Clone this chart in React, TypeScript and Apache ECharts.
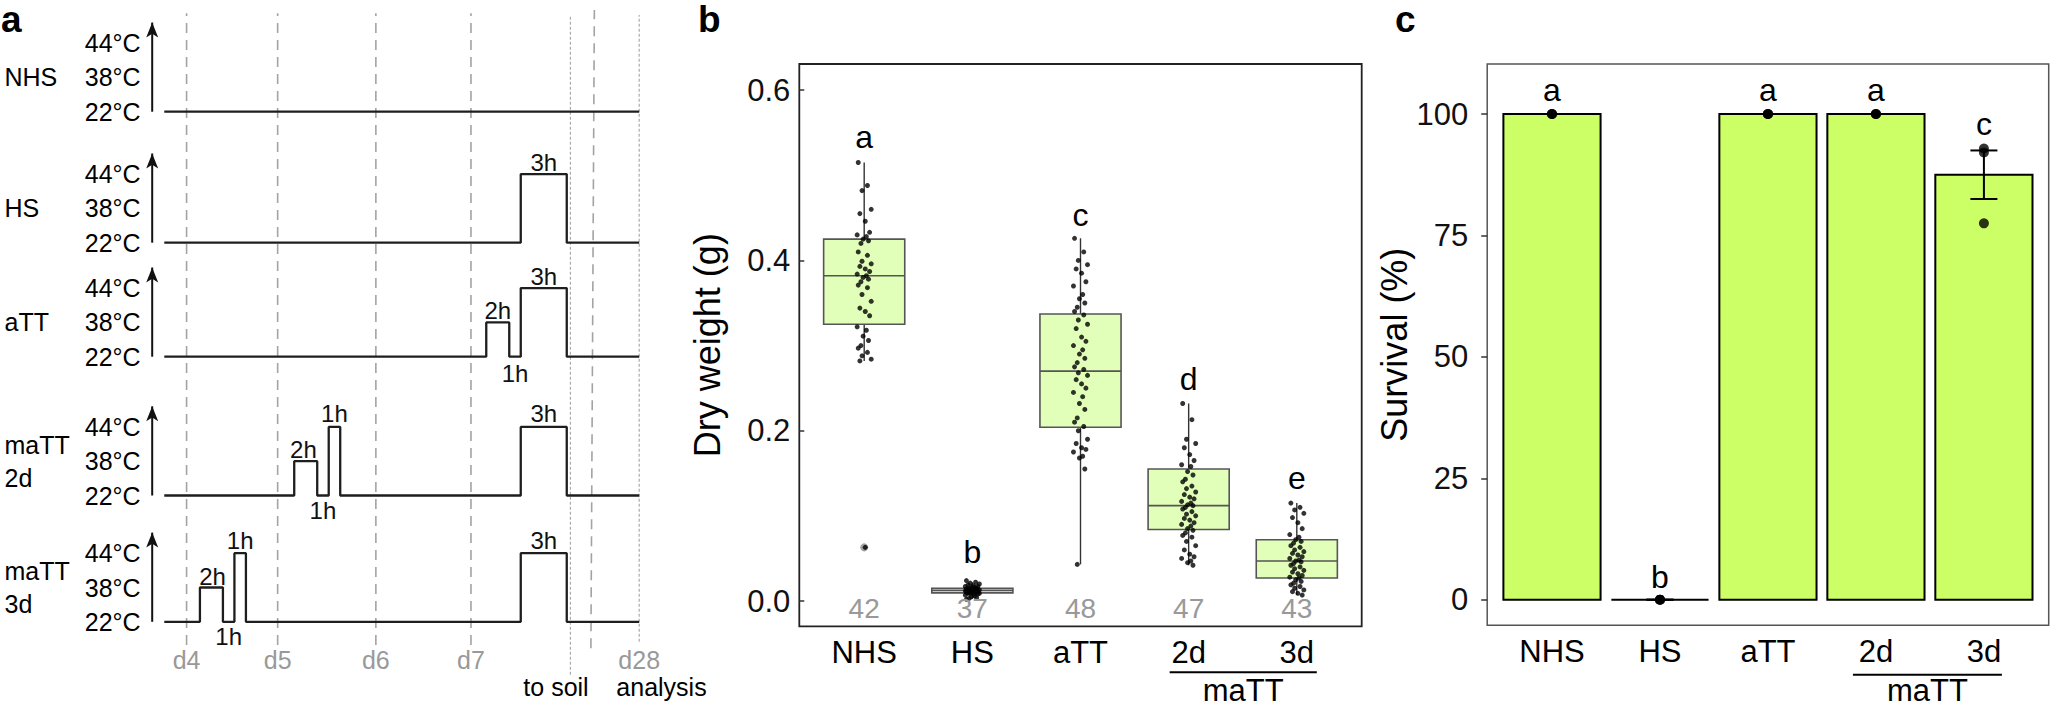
import React, { useEffect, useRef } from 'react';
import * as echarts from 'echarts';

const FONT = '"Liberation Sans", Arial, Helvetica, sans-serif';

// ---------------- Panel a : treatment schematic (schematic time units) ----------------
const dayLinePos = [1.94, 9.86, 18.4, 26.67];
const dayTickPos = [1.94, 9.86, 18.4, 26.67, 41.3];
const dayTickLabels = ['d4', 'd5', 'd6', 'd7', 'd28'];
const soilLinePos = 35.32;
const extraLineTop = 37.4;
const extraLineBottom = 37.1;
const endLinePos = 41.3;
const rowNames = ['NHS', 'HS', 'aTT', 'maTT\n2d', 'maTT\n3d'];
const tempLevels = [0, 1, 2];
const tempLabels = ['22°C', '38°C', '44°C'];
const profileNHS = [[0, 0], [41.3, 0]];
const profileHS = [[0, 0], [31, 0], [31, 2], [35, 2], [35, 0], [41.3, 0]];
const profileATT = [[0, 0], [28, 0], [28, 1], [30, 1], [30, 0], [31, 0], [31, 2], [35, 2], [35, 0], [41.3, 0]];
const profileMaTT2d = [[0, 0], [11.3, 0], [11.3, 1], [13.3, 1], [13.3, 0], [14.3, 0], [14.3, 2], [15.3, 2], [15.3, 0], [31, 0], [31, 2], [35, 2], [35, 0], [41.3, 0]];
const profileMaTT3d = [[0, 0], [3.1, 0], [3.1, 1], [5.1, 1], [5.1, 0], [6.1, 0], [6.1, 2], [7.1, 2], [7.1, 0], [31, 0], [31, 2], [35, 2], [35, 0], [41.3, 0]];
const pulseLabelsNHS: any[] = [];
const pulseLabelsHS = [[33, 2.35, '3h']];
const pulseLabelsATT = [[33, 2.35, '3h'], [29, 1.35, '2h'], [30.5, -0.48, '1h']];
const pulseLabelsMaTT2d = [[12.1, 1.33, '2h'], [14.8, 2.38, '1h'], [13.8, -0.43, '1h'], [33, 2.38, '3h']];
const pulseLabelsMaTT3d = [[4.2, 1.33, '2h'], [6.6, 2.38, '1h'], [5.6, -0.43, '1h'], [33, 2.38, '3h']];

// ---------------- Panel b : dry weight ----------------
const catLabels = ['NHS', 'HS', 'aTT', '2d', '3d'];
const catPos = [0, 1, 2, 3, 4];
const bTicks = [0, 0.2, 0.4, 0.6];
const bWhiskerLow = [0.282, 0.003, 0.043, 0.042, 0.007];
const bQ1 = [0.325, 0.0095, 0.204, 0.084, 0.027];
const bMedian = [0.382, 0.0125, 0.270, 0.112, 0.047];
const bQ3 = [0.425, 0.015, 0.337, 0.155, 0.072];
const bWhiskerHigh = [0.515, 0.022, 0.426, 0.232, 0.115];
const bOutliers = [[0, 0.063]];
const bCounts = ['42', '37', '48', '47', '43'];
const bLetters = ['a', 'b', 'c', 'd', 'e'];
const bLetterY = [0.545, 0.0575, 0.453, 0.261, 0.145];
const bPtsNHS = [0.515, 0.488, 0.482, 0.460, 0.455, 0.446, 0.433, 0.430, 0.428, 0.425, 0.423, 0.420, 0.410, 0.406, 0.399, 0.396, 0.393, 0.390, 0.387, 0.384, 0.382, 0.380, 0.378, 0.375, 0.371, 0.368, 0.360, 0.352, 0.344, 0.340, 0.335, 0.322, 0.318, 0.311, 0.306, 0.300, 0.297, 0.292, 0.288, 0.284, 0.282, 0.063];
const bPtsHS = [0.024, 0.022, 0.021, 0.020, 0.019, 0.018, 0.017, 0.017, 0.016, 0.016, 0.015, 0.015, 0.014, 0.014, 0.013, 0.013, 0.013, 0.012, 0.012, 0.012, 0.011, 0.011, 0.011, 0.010, 0.010, 0.010, 0.009, 0.009, 0.009, 0.008, 0.008, 0.007, 0.006, 0.005, 0.004, 0.003, 0.002];
const bPtsATT = [0.426, 0.41, 0.40, 0.395, 0.39, 0.385, 0.375, 0.37, 0.36, 0.355, 0.35, 0.345, 0.34, 0.336, 0.33, 0.325, 0.32, 0.31, 0.305, 0.30, 0.295, 0.29, 0.285, 0.28, 0.275, 0.272, 0.268, 0.265, 0.26, 0.255, 0.25, 0.245, 0.24, 0.232, 0.225, 0.215, 0.21, 0.205, 0.20, 0.19, 0.185, 0.18, 0.178, 0.175, 0.17, 0.168, 0.155, 0.043];
const bPtsMaTT2d = [0.232, 0.213, 0.19, 0.185, 0.18, 0.172, 0.165, 0.16, 0.158, 0.152, 0.148, 0.143, 0.14, 0.135, 0.132, 0.128, 0.125, 0.122, 0.12, 0.117, 0.115, 0.113, 0.112, 0.11, 0.108, 0.105, 0.102, 0.10, 0.097, 0.095, 0.092, 0.09, 0.088, 0.085, 0.083, 0.08, 0.077, 0.075, 0.07, 0.065, 0.06, 0.055, 0.052, 0.05, 0.047, 0.045, 0.042];
const bPtsMaTT3d = [0.115, 0.11, 0.107, 0.103, 0.098, 0.092, 0.085, 0.078, 0.075, 0.072, 0.07, 0.068, 0.065, 0.063, 0.06, 0.058, 0.056, 0.054, 0.052, 0.05, 0.048, 0.047, 0.046, 0.044, 0.042, 0.04, 0.038, 0.036, 0.034, 0.032, 0.03, 0.028, 0.027, 0.025, 0.023, 0.021, 0.019, 0.017, 0.015, 0.013, 0.011, 0.009, 0.007];
const jitterPattern = [-0.055, 0.03, -0.02, 0.065, -0.04, 0.01, 0.05, -0.065, 0.02, -0.01, 0.04, -0.03];

// ---------------- Panel c : survival ----------------
const cTicks = [0, 25, 50, 75, 100];
const cMean = [100, 0, 100, 100, 87.5];
const cSE = [0, 0, 0, 0, 5];
const cPoints = [[0, 100], [0, 100], [0, 100], [1, 0], [1, 0], [1, 0], [2, 100], [2, 100], [2, 100], [3, 100], [3, 100], [3, 100], [4, 92.9], [4, 92.1], [4, 77.5]];
const cLetters = ['a', 'b', 'a', 'a', 'c'];
const cLetterY = [104.9, 4.7, 104.9, 104.9, 98.0];

// ---------------- layout ----------------
const A_LEFT = 152.2;
const A_WIDTH = 487.0;
const A_XMIN = -1.05;
const A_XMAX = 41.3;
const ROW_BASE = [111.7, 242.7, 356.7, 495.5, 621.8];
const LEVEL_PX = 34.3;
const ROW_YMAX = 2.8;

function textEl(x: number, y: number, text: string, size: number, color = '#000', weight = 'normal', align = 'center', lineHeight?: number) {
  const style: any = { text, fontSize: size, fontFamily: FONT, fontWeight: weight, fill: color, align, verticalAlign: 'middle' };
  if (lineHeight) style.lineHeight = lineHeight;
  return { type: 'text', x, y, style };
}

function nearestLabel(v: number, pos: number[], labels: string[]) {
  let best = 0;
  for (let i = 1; i < pos.length; i++) if (Math.abs(pos[i] - v) < Math.abs(pos[best] - v)) best = i;
  return Math.abs(pos[best] - v) < 0.01 ? labels[best] : '';
}

const noLine = { show: false, onZero: false };

function buildOption() {
  const grid: any[] = [];
  const xAxis: any[] = [];
  const yAxis: any[] = [];
  const series: any[] = [];
  const profiles = [profileNHS, profileHS, profileATT, profileMaTT2d, profileMaTT3d];
  const pulseLabels = [pulseLabelsNHS, pulseLabelsHS, pulseLabelsATT, pulseLabelsMaTT2d, pulseLabelsMaTT3d];

  // ---- overlay grid for panel a vertical day lines (index 0)
  grid.push({ left: A_LEFT, top: 10, width: A_WIDTH, height: 635, outerBoundsMode: 'none' });
  xAxis.push({
    gridIndex: 0, type: 'value', min: A_XMIN, max: A_XMAX,
    axisLine: noLine, axisTick: { show: false }, splitLine: { show: false },
    axisLabel: {
      customValues: dayTickPos, formatter: (v: number) => nearestLabel(v, dayTickPos, dayTickLabels),
      color: '#999', fontSize: 25, fontFamily: FONT, margin: 5, lineHeight: 20,
    },
  });
  yAxis.push({ gridIndex: 0, type: 'value', min: 0, max: 1, show: false, axisLine: noLine });
  const dashed = { color: '#a3a3a3', width: 1.6, type: [10, 7] };
  const dotted = { color: '#ababab', width: 1.2, type: [3, 2] };
  dayLinePos.forEach((x) => {
    series.push({ type: 'line', xAxisIndex: 0, yAxisIndex: 0, data: [[x, 0], [x, 0.995]], symbol: 'none', lineStyle: dashed, clip: false, z: 1, silent: true });
  });
  series.push({ type: 'line', xAxisIndex: 0, yAxisIndex: 0, data: [[soilLinePos, -0.047], [soilLinePos, 0.992]], symbol: 'none', lineStyle: dotted, clip: false, z: 1, silent: true });
  series.push({ type: 'line', xAxisIndex: 0, yAxisIndex: 0, data: [[extraLineBottom, -0.005], [extraLineTop, 1.0]], symbol: 'none', lineStyle: dashed, clip: false, z: 1, silent: true });
  series.push({ type: 'line', xAxisIndex: 0, yAxisIndex: 0, data: [[endLinePos, 0.005], [endLinePos, 0.992]], symbol: 'none', lineStyle: dotted, clip: false, z: 1, silent: true });

  // ---- rows of panel a (grid 1..5)
  const rowH = ROW_YMAX * LEVEL_PX;
  for (let r = 0; r < 5; r++) {
    const gi = grid.length;
    grid.push({ left: A_LEFT, top: ROW_BASE[r] - rowH, width: A_WIDTH, height: rowH, outerBoundsMode: 'none' });
    xAxis.push({ gridIndex: gi, type: 'value', min: A_XMIN, max: A_XMAX, show: false, axisLine: noLine });
    const yTemp = yAxis.length;
    yAxis.push({
      gridIndex: gi, type: 'value', min: 0, max: ROW_YMAX, position: 'left', offset: 0,
      axisLine: noLine, axisTick: { show: false }, splitLine: { show: false },
      axisLabel: {
        customValues: tempLevels, formatter: (v: number) => nearestLabel(v, tempLevels, tempLabels),
        color: '#000', fontSize: 25, fontFamily: FONT, margin: 11.6, padding: [0, 0, 5, 0],
      },
    });
    yAxis.push({
      gridIndex: gi, type: 'value', min: 0, max: ROW_YMAX, position: 'left', offset: 0,
      axisLine: noLine, axisTick: { show: false }, splitLine: { show: false },
      axisLabel: {
        customValues: [1], formatter: () => rowNames[r], align: 'left', lineHeight: 33,
        color: '#000', fontSize: 25, fontFamily: FONT, margin: A_LEFT - 4.5, padding: [0, 0, 6, 0],
      },
    });
    series.push({
      type: 'line', xAxisIndex: gi, yAxisIndex: yTemp, data: profiles[r], symbol: 'none',
      lineStyle: { color: '#1e1e1e', width: 2.3 }, clip: false, z: 3, silent: true,
    });
    series.push({
      type: 'line', xAxisIndex: gi, yAxisIndex: yTemp,
      data: [{ value: [A_XMIN, 0], symbol: 'none' }, { value: [A_XMIN, 2.6], symbol: 'arrow', symbolSize: [9, 15] }],
      showSymbol: true, lineStyle: { color: '#111', width: 2 }, itemStyle: { color: '#111' }, clip: false, z: 3, silent: true,
    });
    const pl = pulseLabels[r];
    series.push({
      type: 'custom', xAxisIndex: gi, yAxisIndex: yTemp, clip: false, z: 4, silent: true,
      data: pl.map((d: any) => [d[0], d[1]]),
      renderItem: (params: any, api: any) => {
        const p = api.coord([api.value(0), api.value(1)]);
        return textEl(p[0], p[1], pl[params.dataIndex][2], 24, '#111');
      },
    });
  }

  // ---- panel b (grid 6)
  const gb = grid.length;
  grid.push({ left: 799.3, top: 64, width: 562.4, height: 562.3, show: true, borderColor: '#222', borderWidth: 1.8, backgroundColor: 'transparent', outerBoundsMode: 'none' });
  const xb = xAxis.length;
  xAxis.push({
    gridIndex: gb, type: 'value', min: -0.6, max: 4.6,
    axisLine: noLine, axisTick: { show: false }, splitLine: { show: false },
    axisLabel: { customValues: catPos, formatter: (v: number) => nearestLabel(v, catPos, catLabels), color: '#000', fontSize: 31, fontFamily: FONT, margin: 11 },
  });
  const yb = yAxis.length;
  yAxis.push({
    gridIndex: gb, type: 'value', min: -0.0297, max: 0.6307, position: 'left',
    axisLine: noLine, splitLine: { show: false },
    axisTick: { show: true, inside: true, length: 5, customValues: bTicks, lineStyle: { color: '#333', width: 1.5 } },
    axisLabel: { customValues: bTicks, formatter: (v: number) => v.toFixed(1), color: '#111', fontSize: 31, fontFamily: FONT, margin: 9 },
    name: 'Dry weight (g)', nameLocation: 'middle', nameGap: 74,
    nameTextStyle: { fontSize: 36, color: '#000', fontFamily: FONT },
  });
  series.push({
    type: 'custom', xAxisIndex: xb, yAxisIndex: yb, z: 2, silent: true,
    data: catPos.map((i) => [i, bWhiskerLow[i], bQ1[i], bMedian[i], bQ3[i], bWhiskerHigh[i]]),
    renderItem: (params: any, api: any) => {
      const i = api.value(0);
      const lo = api.coord([i, api.value(1)]);
      const q1 = api.coord([i, api.value(2)]);
      const md = api.coord([i, api.value(3)]);
      const q3 = api.coord([i, api.value(4)]);
      const hi = api.coord([i, api.value(5)]);
      const half = api.size([0.75, 0])[0] / 2;
      return {
        type: 'group', children: [
          { type: 'line', shape: { x1: lo[0], y1: lo[1], x2: q1[0], y2: q1[1] }, style: { stroke: '#333', lineWidth: 1.4 } },
          { type: 'line', shape: { x1: q3[0], y1: q3[1], x2: hi[0], y2: hi[1] }, style: { stroke: '#333', lineWidth: 1.4 } },
          { type: 'rect', shape: { x: q3[0] - half, y: q3[1], width: 2 * half, height: q1[1] - q3[1] }, style: { fill: '#e1ffb9', stroke: '#555', lineWidth: 1.6 } },
          { type: 'line', shape: { x1: md[0] - half, y1: md[1], x2: md[0] + half, y2: md[1] }, style: { stroke: '#555', lineWidth: 1.6 } },
        ],
      };
    },
  });
  series.push({
    type: 'scatter', xAxisIndex: xb, yAxisIndex: yb, data: bOutliers, symbolSize: 8,
    itemStyle: { color: '#8a8a8a' }, z: 3, silent: true,
  });
  const bGroups = [bPtsNHS, bPtsHS, bPtsATT, bPtsMaTT2d, bPtsMaTT3d];
  const jitterData: number[][] = [];
  bGroups.forEach((vals, i) => vals.forEach((v, k) => jitterData.push([i + jitterPattern[k % jitterPattern.length], v])));
  series.push({
    type: 'scatter', xAxisIndex: xb, yAxisIndex: yb, data: jitterData, symbolSize: 5,
    itemStyle: { color: '#000' }, z: 4, silent: true,
  });
  series.push({
    type: 'custom', xAxisIndex: xb, yAxisIndex: yb, clip: false, z: 5, silent: true,
    data: catPos.map((i) => [i, bLetterY[i]]),
    renderItem: (params: any, api: any) => {
      const p = api.coord([api.value(0), api.value(1)]);
      return textEl(p[0], p[1], bLetters[params.dataIndex], 32, '#000');
    },
  });
  series.push({
    type: 'custom', xAxisIndex: xb, yAxisIndex: yb, clip: false, z: 5, silent: true,
    data: catPos.map((i) => [i, -0.009]),
    renderItem: (params: any, api: any) => {
      const p = api.coord([api.value(0), api.value(1)]);
      return textEl(p[0], p[1], bCounts[params.dataIndex], 28, '#999');
    },
  });
  const bracket = (dx1: number, dx2: number, dyLine: number, dyText: number) => (params: any, api: any) => {
    const yBottom = params.coordSys.y + params.coordSys.height;
    const x1 = api.coord([api.value(0), 0])[0] + dx1;
    const x2 = api.coord([api.value(1), 0])[0] + dx2;
    return {
      type: 'group', children: [
        { type: 'line', shape: { x1, y1: yBottom + dyLine, x2, y2: yBottom + dyLine }, style: { stroke: '#000', lineWidth: 2 } },
        textEl((x1 + x2) / 2, yBottom + dyText, 'maTT', 31, '#000', 'normal', 'center', 26),
      ],
    };
  };
  series.push({ type: 'custom', xAxisIndex: xb, yAxisIndex: yb, clip: false, silent: true, data: [[3, 4]], renderItem: bracket(-19, 20, 46, 64.5) });

  // ---- panel c (grid 7)
  const gc = grid.length;
  grid.push({ left: 1487.2, top: 64, width: 561.5, height: 561.3, show: true, borderColor: '#555', borderWidth: 1.5, backgroundColor: 'transparent', outerBoundsMode: 'none' });
  const xc = xAxis.length;
  xAxis.push({
    gridIndex: gc, type: 'value', min: -0.6, max: 4.6,
    axisLine: noLine, axisTick: { show: false }, splitLine: { show: false },
    axisLabel: { customValues: catPos, formatter: (v: number) => nearestLabel(v, catPos, catLabels), color: '#000', fontSize: 31, fontFamily: FONT, margin: 11 },
  });
  const yc = yAxis.length;
  yAxis.push({
    gridIndex: gc, type: 'value', min: -5.27, max: 110.3, position: 'left',
    axisLine: noLine, splitLine: { show: false },
    axisTick: { show: true, inside: false, length: 6, customValues: cTicks, lineStyle: { color: '#333', width: 1.5 } },
    axisLabel: { customValues: cTicks, color: '#111', fontSize: 31, fontFamily: FONT, margin: 19, padding: [10, 0, 0, 0] },
    name: 'Survival (%)', nameLocation: 'middle', nameGap: 71,
    nameTextStyle: { fontSize: 36, color: '#000', fontFamily: FONT },
  });
  series.push({
    type: 'custom', xAxisIndex: xc, yAxisIndex: yc, z: 2, silent: true, clip: false,
    data: catPos.map((i) => [i, cMean[i]]),
    renderItem: (params: any, api: any) => {
      const i = api.value(0);
      const b0 = api.coord([i, 0]);
      const t = api.coord([i, api.value(1)]);
      const half = api.size([0.9, 0])[0] / 2;
      return {
        type: 'polygon',
        shape: { points: [[b0[0] - half, b0[1]], [b0[0] + half, b0[1]], [b0[0] + half, t[1]], [b0[0] - half, t[1]]] },
        style: { fill: '#ccff66', stroke: '#000', lineWidth: 2 },
      };
    },
  });
  series.push({
    type: 'custom', xAxisIndex: xc, yAxisIndex: yc, z: 3, silent: true, clip: false,
    data: catPos.map((i) => [i, cMean[i] - cSE[i], cMean[i] + cSE[i]]),
    renderItem: (params: any, api: any) => {
      const i = api.value(0);
      const lo = api.coord([i, api.value(1)]);
      const hi = api.coord([i, api.value(2)]);
      const half = api.size([0.25, 0])[0] / 2;
      const st = { stroke: '#000', lineWidth: 2 };
      return {
        type: 'group', children: [
          { type: 'line', shape: { x1: lo[0], y1: lo[1], x2: hi[0], y2: hi[1] }, style: st },
          { type: 'line', shape: { x1: lo[0] - half, y1: lo[1], x2: lo[0] + half, y2: lo[1] }, style: st },
          { type: 'line', shape: { x1: hi[0] - half, y1: hi[1], x2: hi[0] + half, y2: hi[1] }, style: st },
        ],
      };
    },
  });
  series.push({
    type: 'scatter', xAxisIndex: xc, yAxisIndex: yc, data: cPoints, symbolSize: 10,
    itemStyle: { color: '#000' }, z: 4, silent: true, clip: false,
  });
  series.push({
    type: 'custom', xAxisIndex: xc, yAxisIndex: yc, clip: false, z: 5, silent: true,
    data: catPos.map((i) => [i, cLetterY[i]]),
    renderItem: (params: any, api: any) => {
      const p = api.coord([api.value(0), api.value(1)]);
      return textEl(p[0], p[1], cLetters[params.dataIndex], 32, '#000');
    },
  });
  series.push({ type: 'custom', xAxisIndex: xc, yAxisIndex: yc, clip: false, silent: true, data: [[3, 4]], renderItem: bracket(-23, 18, 49.4, 65.5) });

  return {
    animation: false,
    backgroundColor: '#fff',
    textStyle: { fontFamily: FONT },
    grid, xAxis, yAxis, series,
    graphic: [
      textEl(1, 19.5, 'a', 37, '#000', 'bold', 'left'),
      textEl(698, 19.5, 'b', 37, '#000', 'bold', 'left'),
      textEl(1395, 19.5, 'c', 37, '#000', 'bold', 'left'),
      textEl(556, 686.5, 'to soil', 25, '#000', 'normal', 'center', 20),
      textEl(661.5, 687, 'analysis', 25, '#000', 'normal', 'center', 20),
    ],
  };
}

export default function App() {
  const ref = useRef<HTMLDivElement>(null);
  useEffect(() => {
    document.body.style.margin = '0';
    const chart = echarts.init(ref.current as HTMLDivElement, null, { renderer: 'svg' });
    chart.setOption(buildOption() as any);
    return () => chart.dispose();
  }, []);
  return <div ref={ref} style={{ position: 'absolute', left: 0, top: 0, width: 2050, height: 707, background: '#fff' }} />;
}
